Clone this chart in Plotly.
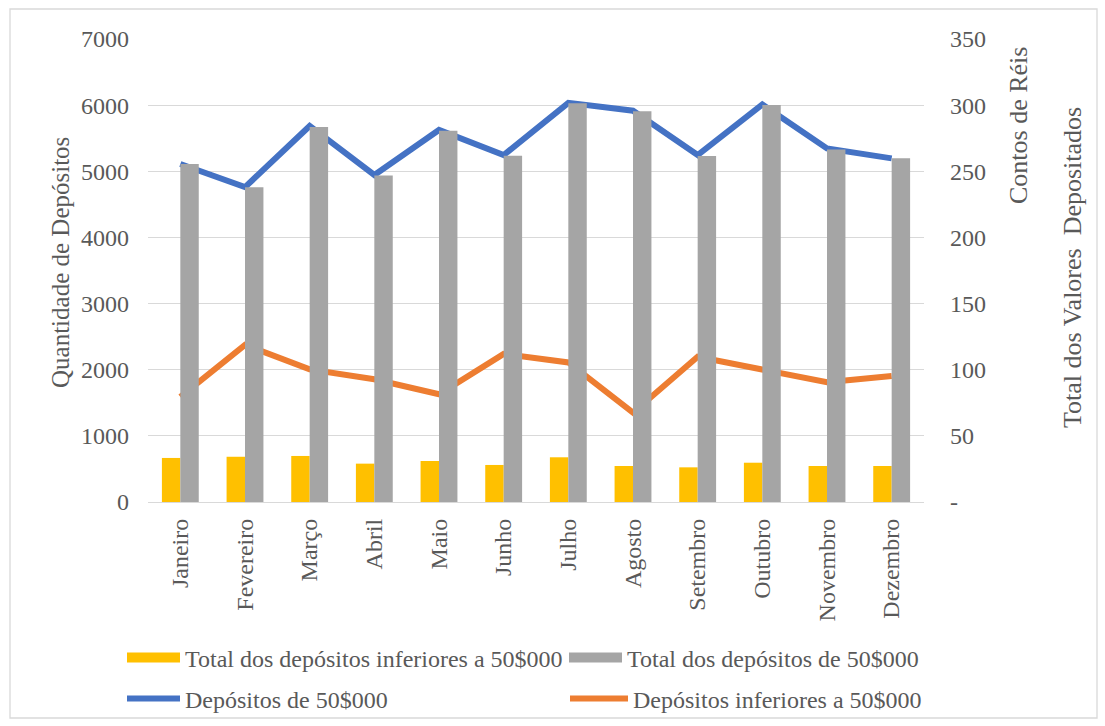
import plotly.graph_objects as go

# Monthly deposit data
meses = ["Janeiro", "Fevereiro", "Março", "Abril", "Maio", "Junho",
         "Julho", "Agosto", "Setembro", "Outubro", "Novembro", "Dezembro"]

# Number of deposits (left axis)
depositos_50 = [5110, 4760, 5685, 4945, 5625, 5245, 6035, 5915, 5245, 6010, 5345, 5195]
depositos_inf = [1590, 2375, 2005, 1855, 1630, 2240, 2110, 1350, 2195, 1995, 1810, 1905]

# Total deposited value in contos de réis (right axis)
total_inf = [33.3, 34.2, 34.8, 29.0, 31.0, 28.0, 33.8, 27.2, 26.2, 29.7, 27.2, 27.2]
total_50 = [255.5, 238.0, 283.5, 246.8, 280.7, 261.8, 301.5, 295.4, 261.6, 300.1, 266.5, 259.8]

left_ticks = [0, 1000, 2000, 3000, 4000, 5000, 6000, 7000]
right_ticks = [0, 50, 100, 150, 200, 250, 300, 350]
right_ticktext = ["-", "50", "100", "150", "200", "250", "300", "350"]

YELLOW = "#FFC000"
GREY = "#A5A5A5"
BLUE = "#4472C4"
ORANGE = "#ED7D31"
TEXT = "#595959"
FONT = "Liberation Serif, Times New Roman, serif"
FS = 24

W, H = 1105, 726
# plot area in pixels
PL, PR, PT, PB = 148, 924, 39, 502


def px_to_paper(px, py):
    return (px - PL) / (PR - PL), (PB - py) / (PB - PT)


fig = go.Figure()

fig.add_trace(go.Bar(x=meses, y=total_inf, name="Total dos depósitos inferiores a 50$000",
                     marker=dict(color=YELLOW, line=dict(width=0)), yaxis="y2",
                     showlegend=False, legendgroup="inf_total"))
fig.add_trace(go.Bar(x=meses, y=total_50, name="Total dos depósitos de 50$000",
                     marker=dict(color=GREY, line=dict(width=0)), yaxis="y2",
                     showlegend=False, legendgroup="50_total"))
fig.add_trace(go.Scatter(x=meses, y=depositos_50, name="Depósitos de 50$000", mode="lines",
                         line=dict(color=BLUE, width=6), yaxis="y", legend="legend3"))
fig.add_trace(go.Scatter(x=meses, y=depositos_inf, name="Depósitos inferiores a 50$000", mode="lines",
                         line=dict(color=ORANGE, width=6), yaxis="y", legend="legend4"))

# legend swatches for the bar series
fig.add_trace(go.Scatter(x=[None], y=[None], mode="lines", name="Total dos depósitos inferiores a 50$000",
                         line=dict(color=YELLOW, width=14), legendgroup="inf_total", legend="legend"))
fig.add_trace(go.Scatter(x=[None], y=[None], mode="lines", name="Total dos depósitos de 50$000",
                         line=dict(color=GREY, width=14), legendgroup="50_total", legend="legend2"))


def legend_at(px, py, iw=53):
    return dict(x=px / W, y=1 - py / H, xref="container", yref="container",
                xanchor="left", yanchor="middle", orientation="h", itemwidth=iw,
                bgcolor="rgba(0,0,0,0)", font=dict(family=FONT, size=FS, color=TEXT),
                tracegroupgap=0, itemclick=False)


fig.update_layout(
    width=W, height=H,
    margin=dict(l=PL, r=W - PR, t=PT, b=H - PB),
    paper_bgcolor="white", plot_bgcolor="white",
    barmode="group", bargap=0.43, bargroupgap=0,
    font=dict(family=FONT, size=FS, color=TEXT),
    xaxis=dict(type="category", showgrid=False, showline=True, linecolor="#D9D9D9",
               linewidth=1.3, tickangle=-90, ticks="", ticklabelstandoff=6,
               tickfont=dict(family=FONT, size=FS, color=TEXT)),
    yaxis=dict(range=[0, 7000], tickvals=left_ticks, showgrid=True, gridcolor="#D9D9D9",
               gridwidth=1.3, zeroline=False, showline=False, ticks="",
               ticklabelstandoff=18, tickfont=dict(family=FONT, size=FS, color=TEXT)),
    yaxis2=dict(range=[0, 350], tickvals=right_ticks, ticktext=right_ticktext,
                overlaying="y", side="right", showgrid=False, zeroline=False,
                showline=False, ticks="", ticklabelstandoff=25,
                tickfont=dict(family=FONT, size=FS, color=TEXT)),
    legend=legend_at(122, 658),
    legend2=legend_at(564, 658),
    legend3=legend_at(122, 699),
    legend4=legend_at(565, 699, 58),
)

# axis titles
titles = [
    ("Quantidade de Depósitos", 60, 263, 25),
    ("Contos de Réis", 1018, 126, 26),
    ("Total dos Valores\u00a0 Depositados", 1072, 268, 26),
]
for text, px, py, size in titles:
    ax, ay = px_to_paper(px, py)
    fig.add_annotation(text=text, textangle=-90, x=ax, y=ay, xref="paper", yref="paper",
                       xanchor="center", yanchor="middle", showarrow=False,
                       font=dict(family=FONT, size=size, color=TEXT))

# outer chart border
bx0, by0 = px_to_paper(10, 718)
bx1, by1 = px_to_paper(1097, 9)
fig.add_shape(type="rect", xref="paper", yref="paper", x0=bx0, x1=bx1, y0=by0, y1=by1,
              line=dict(color="#D9D9D9", width=1.3), fillcolor="rgba(0,0,0,0)", layer="below")

fig.write_html("out.html")
